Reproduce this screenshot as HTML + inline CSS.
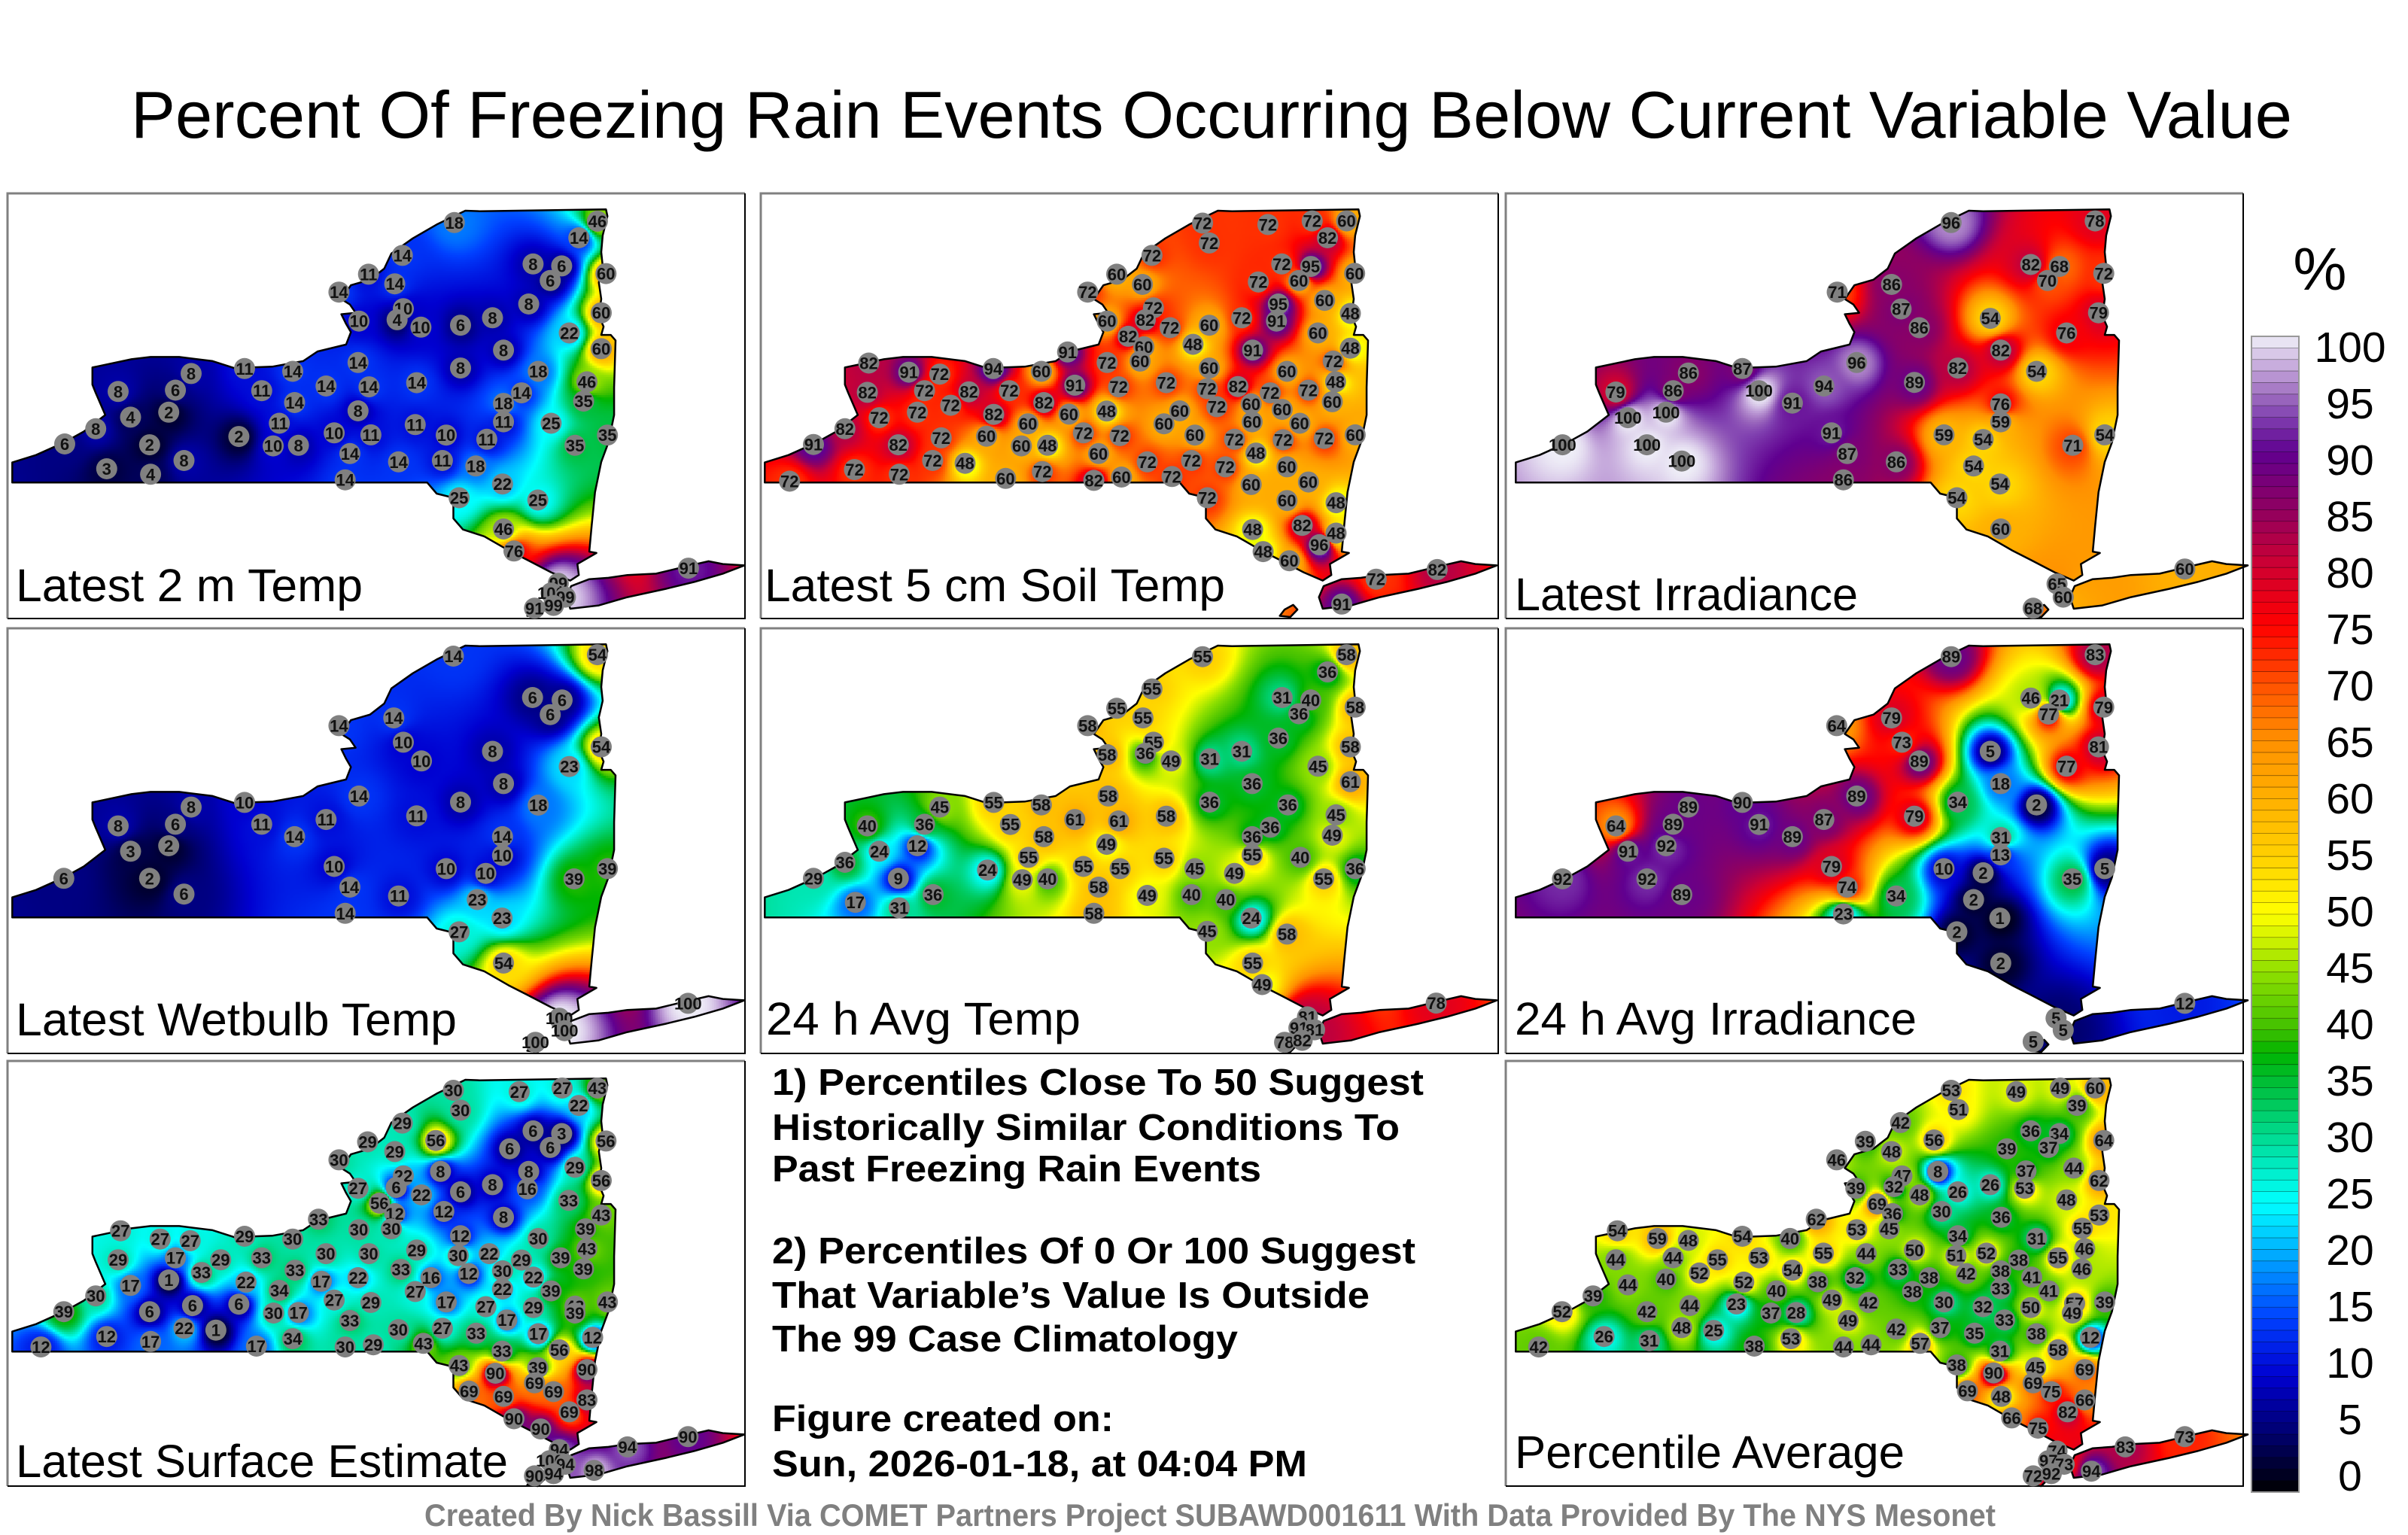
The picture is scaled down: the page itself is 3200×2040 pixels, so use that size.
<!DOCTYPE html>
<html><head><meta charset="utf-8">
<style>
html,body{margin:0;padding:0;background:#fff;}
#wrap{position:relative;width:3200px;height:2040px;overflow:hidden;background:#fff;}
#cv{position:absolute;left:0;top:0;}
#ov{position:absolute;left:0;top:0;}
text{font-family:"Liberation Sans",Arial,sans-serif;}
</style></head>
<body>
<div id="wrap">
<canvas id="cv" width="3200" height="2040"></canvas>
<svg id="ov" width="3200" height="2040" xmlns="http://www.w3.org/2000/svg">
<text x="174" y="183" font-size="88" textLength="2872" lengthAdjust="spacingAndGlyphs">Percent Of Freezing Rain Events Occurring Below Current Variable Value</text>
<g id="panels"></g>
<g id="notes" font-weight="bold" font-size="49">
<text x="1026" y="1455" textLength="866" lengthAdjust="spacingAndGlyphs">1) Percentiles Close To 50 Suggest</text>
<text x="1026" y="1515" textLength="834" lengthAdjust="spacingAndGlyphs">Historically Similar Conditions To</text>
<text x="1026" y="1570" textLength="650" lengthAdjust="spacingAndGlyphs">Past Freezing Rain Events</text>
<text x="1026" y="1679" textLength="855" lengthAdjust="spacingAndGlyphs">2) Percentiles Of 0 Or 100 Suggest</text>
<text x="1026" y="1738" textLength="794" lengthAdjust="spacingAndGlyphs">That Variable’s Value Is Outside</text>
<text x="1026" y="1796" textLength="619" lengthAdjust="spacingAndGlyphs">The 99 Case Climatology</text>
<text x="1026" y="1902" textLength="454" lengthAdjust="spacingAndGlyphs">Figure created on:</text>
<text x="1026" y="1962" textLength="711" lengthAdjust="spacingAndGlyphs">Sun, 2026-01-18, at 04:04 PM</text>
</g>
<text x="564" y="2028" font-size="42" font-weight="bold" fill="#808080" textLength="2088" lengthAdjust="spacingAndGlyphs">Created By Nick Bassill Via COMET Partners Project SUBAWD001611 With Data Provided By The NYS Mesonet</text>
<g id="cbar"></g>
</svg>
</div>
<script>
// ---- colour scale ----
const cmapStops = [0,5,10,15,20,25,30,35,38,40,45,50,55,60,65,70,75,80,85,90,93,95,97,100];
const cmapColors = ["#000000","#00006e","#0000d0","#0040ff","#00a0ff","#00ffff","#00e0a0","#00c040","#00b400","#40c000","#90e000","#ffff00","#ffd000","#ffb000","#ff9000","#ff5000","#ff0000","#d00030","#900060","#600090","#8040b0","#a070c0","#c0a0d8","#f0f0f8"];
const cbarTicks = [0,5,10,15,20,25,30,35,40,45,50,55,60,65,70,75,80,85,90,95,100];

// ---- station data per panel: grid x, grid y (map units), percentile value ----
const p1X=[120,185,208,300,298,258,232,352,338,385,370,485,497,533,598,602,570,557,610,668,685,735,735,758,762,718,708,820,858,855,920,912,950,982,1005,1040,1017,950,867,830,817,737,695,757,812,828,937,1102,1162,1138,1093,1178,1198,1237,1255,1245,1245,1113,1078,1040,1040,1215,1208,1140,1258,1190,1038,947,1112,1040,1062,1155,1140,1170,1105,1145,1428];
const p1Y=[905,850,995,1015,908,808,715,710,790,650,965,878,632,712,642,755,830,912,910,695,865,610,785,698,872,940,1035,970,683,835,873,965,630,985,888,565,448,475,482,415,455,460,355,290,325,222,103,253,260,313,398,503,158,98,288,430,560,642,720,758,825,680,750,830,873,910,1050,1100,1108,1213,1293,1410,1445,1460,1500,1490,1355];
const p1V=[6,8,3,4,2,4,8,6,2,8,8,2,11,11,14,14,11,10,8,14,10,14,8,14,11,14,14,14,14,11,10,11,8,18,11,8,8,6,10,10,4,10,14,11,14,14,18,8,6,6,8,22,14,46,60,60,60,18,14,18,11,46,35,25,35,35,22,25,25,46,76,99,100,99,91,99,91];

const p2X=[928,1065,1158,1230,1190,942,822,1094,1155,1130,1247,1045,748,802,687,1184,1087,1238,825,808,728,860,942,1010,1083,1170,772,805,908,1033,1238,645,728,797,942,1105,1202,228,312,377,489,590,225,345,438,523,660,752,852,938,1002,1070,1150,1207,400,330,250,490,595,648,727,562,880,958,1030,1095,1200,178,112,290,380,475,548,603,678,755,847,912,995,1032,1132,1097,1183,1248,1040,362,198,292,430,515,592,700,758,710,812,864,905,976,1105,1150,1030,62,938,1105,1208,1033,1137,1208,1173,1055,1110,1292,1420,1220];
const p2Y=[105,110,97,97,158,177,222,253,262,313,287,318,290,327,355,385,398,432,412,455,460,484,475,448,460,503,515,553,544,565,558,572,610,605,630,642,605,612,645,652,632,642,718,712,716,712,692,698,683,705,697,720,710,680,765,790,810,798,755,797,786,832,785,770,760,780,752,850,907,908,883,877,912,910,865,875,832,873,888,825,830,890,885,872,938,965,998,1015,975,1030,1005,1037,1025,940,970,1023,965,988,988,1043,1052,1040,1100,1110,1118,1215,1200,1228,1270,1295,1328,1395,1360,1485];
const p2V=[72,72,72,60,82,72,72,72,95,60,60,72,60,60,72,60,95,48,72,82,60,72,60,72,91,60,82,60,48,91,48,91,72,60,60,60,72,82,91,72,94,60,82,72,82,72,91,72,72,72,82,72,72,48,72,72,72,82,82,60,48,60,60,72,60,60,60,82,91,82,72,60,60,48,72,72,60,60,72,60,60,72,72,60,48,72,72,72,48,60,72,82,60,60,72,72,72,72,60,60,60,72,72,60,48,48,82,48,96,48,60,72,82,91];

const p3X=[923,1225,1090,1150,1125,1243,684,798,818,856,1005,1232,1165,1027,725,937,1102,372,485,220,340,520,656,846,590,245,325,1027,1027,908,990,672,1178,1245,108,285,358,705,808,970,697,1025,935,1027,1413,1145,1158,1095];
const p3Y=[103,97,255,262,313,287,355,327,416,484,450,430,503,565,610,630,642,648,632,717,712,712,695,682,757,810,790,760,825,872,889,865,910,872,908,908,967,940,970,985,1035,1050,1100,1213,1358,1412,1460,1500];
const p3V=[96,78,82,68,70,72,71,86,87,86,54,79,76,82,96,82,54,86,87,79,86,100,94,89,91,100,100,76,59,59,54,91,71,54,100,100,100,87,86,54,86,54,54,60,60,65,60,68];

const p4X=[935,1237,1101,1163,1138,810,695,830,868,1017,1245,1178,1040,737,950,1113,497,385,232,352,533,668,858,602,338,258,1038,1038,685,920,1003,1258,1188,118,298,370,718,820,985,708,1037,947,1040,1157,1168,1107,1427];
const p4Y=[98,93,248,257,310,322,350,410,478,443,427,498,560,605,627,638,628,645,713,707,707,690,677,752,785,805,752,820,860,868,885,868,905,903,903,960,935,967,980,1030,1047,1097,1210,1410,1455,1497,1356];
const p4V=[14,54,6,6,6,14,14,10,10,8,54,23,8,14,8,18,10,8,8,6,11,11,11,14,2,3,14,10,10,10,10,39,39,6,2,6,14,11,23,14,23,27,54,100,100,100,100];

const p5X=[928,1230,1190,822,1095,1155,1130,1248,748,803,687,1087,825,808,728,862,943,1010,1238,1170,1238,1032,730,943,1107,490,590,377,225,345,525,660,752,852,1070,1032,1208,1200,595,330,250,727,563,1032,847,1133,178,112,290,477,550,603,678,755,912,995,1182,1248,363,200,292,710,812,905,977,700,1030,1105,938,1033,1053,1148,1130,1163,1100,1137,1418];
const p5Y=[100,93,155,217,248,257,307,283,287,322,350,395,410,450,455,478,470,443,427,497,553,560,605,627,637,628,637,645,713,707,708,690,695,678,718,752,673,747,752,785,805,780,827,818,830,827,845,903,903,873,908,905,860,868,868,885,905,868,962,990,1010,935,965,962,980,1030,1047,1105,1095,1210,1288,1405,1445,1452,1497,1490,1355];
const p5V=[55,58,36,55,31,40,36,58,55,55,58,36,55,36,58,49,31,31,58,45,61,36,58,36,36,55,58,45,40,36,55,61,61,58,36,36,45,49,58,12,24,49,55,55,55,40,36,29,9,24,49,40,55,55,45,49,55,36,36,17,31,58,49,40,40,58,24,58,45,55,49,81,91,81,78,82,78];

const p6X=[923,1225,1090,1150,1127,1243,683,798,820,856,1005,1232,1165,1027,725,937,1102,372,485,220,340,520,656,846,590,325,245,1027,1027,672,908,990,1177,1245,108,285,358,705,808,970,697,1025,935,1027,1413,1143,1158,1095];
const p6Y=[100,93,250,257,308,283,350,322,410,478,443,427,497,560,605,627,637,645,628,713,707,708,690,678,752,785,805,755,818,860,868,883,905,868,905,905,962,935,967,980,1032,1047,1097,1210,1356,1410,1453,1495];
const p6V=[89,83,46,21,77,79,64,79,73,89,5,81,77,18,89,34,2,89,90,64,89,91,87,79,89,92,91,31,13,79,10,2,35,5,92,92,89,74,34,2,23,1,2,2,12,5,5,5];

const p7X=[935,1073,1163,1237,1198,950,828,898,1102,1162,1053,1138,1255,755,812,695,908,1093,1190,830,815,735,868,950,1017,1090,1245,780,812,915,1177,1040,1245,652,737,805,950,1113,1212,237,320,383,497,598,232,352,447,533,668,758,858,945,1010,1078,1160,1215,338,407,500,603,658,735,825,888,967,1038,1103,1208,258,185,570,855,1038,1140,118,298,388,485,558,610,685,762,920,1003,1103,1190,1258,1190,718,1047,70,208,300,370,437,522,598,708,767,820,912,983,872,1113,1227,1037,1157,947,1023,1112,1215,968,1040,1105,1145,1215,1178,1062,1118,1157,1137,1170,1105,1145,1230,1300,1427];
const p7Y=[98,103,90,90,153,170,217,280,245,255,310,305,282,285,320,350,392,392,377,408,450,453,477,466,440,455,425,507,545,537,497,558,550,565,603,600,625,635,600,607,637,643,627,637,712,705,712,705,690,690,677,697,690,713,705,672,785,758,793,750,790,777,747,777,762,752,775,745,805,843,823,827,818,825,900,900,878,873,905,903,858,867,865,882,885,880,865,905,932,930,1028,990,1008,960,967,1025,998,1028,1020,965,960,978,1015,980,993,1043,1038,1095,1123,1103,1110,1188,1207,1158,1190,1220,1263,1288,1325,1400,1440,1453,1495,1487,1475,1390,1353];
const p7V=[30,27,27,43,22,30,29,56,6,3,6,6,56,29,29,30,8,8,29,22,6,27,22,6,8,16,56,56,12,12,33,8,43,33,30,30,12,30,39,27,27,27,29,30,29,17,29,33,30,30,29,30,22,29,39,43,1,33,22,33,17,22,33,16,12,30,22,39,17,30,34,27,22,39,39,6,6,6,30,17,27,29,17,27,29,43,43,39,33,17,12,12,17,22,1,17,34,30,29,30,27,33,43,17,12,33,56,43,90,39,90,69,69,69,69,83,69,90,90,94,100,94,90,94,98,94,90];

const p8X=[923,1060,1152,1225,1187,938,817,887,1090,1150,1040,1127,1243,743,798,683,895,1080,1180,820,803,723,857,937,1005,1077,1233,768,800,903,1165,1028,1233,640,725,793,937,1102,1198,223,307,372,485,585,220,340,433,520,655,745,846,933,997,1065,1147,1203,325,395,488,590,643,722,812,877,955,1027,1092,1197,245,172,557,842,1027,1128,107,285,375,473,545,598,673,750,908,990,1090,1182,1245,1177,707,1035,58,195,290,358,425,510,587,697,755,808,900,972,858,1102,1215,1025,1147,935,1012,1100,1203,957,1028,1095,1133,1203,1167,1050,1105,1145,1127,1160,1095,1133,1217,1288,1413];
const p8Y=[98,103,90,90,153,168,215,278,245,255,310,305,280,283,320,350,392,390,380,408,447,453,477,466,440,453,425,510,545,537,495,558,550,565,603,600,625,635,598,607,635,642,627,635,712,705,712,705,688,690,677,697,688,713,705,672,782,760,793,750,792,777,747,777,762,752,775,745,803,843,825,827,817,825,900,900,878,872,905,903,858,867,865,882,885,870,865,905,932,930,1028,990,1005,958,968,1025,998,1028,1020,963,958,978,1015,980,993,1043,1038,1093,1122,1103,1110,1187,1207,1158,1190,1220,1263,1285,1322,1405,1440,1453,1495,1487,1478,1390,1353];
const p8V=[53,49,49,60,39,51,42,56,36,34,39,37,64,39,48,46,8,37,44,47,32,39,48,26,26,53,62,69,36,30,48,36,53,62,53,45,34,31,55,54,59,48,54,40,44,44,55,53,55,44,50,51,52,38,55,46,40,52,52,54,38,32,33,38,42,38,41,46,44,39,40,38,33,41,52,42,44,23,37,28,49,42,30,32,50,57,39,49,49,33,42,26,31,48,25,38,53,44,44,42,37,35,57,38,12,31,58,38,90,45,69,69,48,69,75,66,82,66,75,74,97,73,72,92,94,83,73];

const panelTitles=["Latest 2 m Temp","Latest 5 cm Soil Temp","Latest Irradiance","Latest Wetbulb Temp","24 h Avg Temp","24 h Avg Irradiance","Latest Surface Estimate","Percentile Average"];

// ---- layout (not data) ----
const layout=[
 {bx:10,by:257,ox:10,oy:258,lx:11,ly:541,lw:461,X:p1X,Y:p1Y,V:p1V},
 {bx:1011,by:257,ox:1010,oy:258,lx:6,ly:541,lw:612,X:p2X,Y:p2Y,V:p2V},
 {bx:2001,by:257,ox:2008,oy:258,lx:5,ly:553,lw:456,X:p3X,Y:p3Y,V:p3V},
 {bx:10,by:835,ox:10,oy:836,lx:11,ly:540,lw:586,X:p4X,Y:p4Y,V:p4V},
 {bx:1011,by:835,ox:1010,oy:836,lx:8,ly:539,lw:418,X:p5X,Y:p5Y,V:p5V},
 {bx:2001,by:835,ox:2008,oy:836,lx:5,ly:539,lw:534,X:p6X,Y:p6Y,V:p6V},
 {bx:10,by:1410,ox:10,oy:1413,lx:11,ly:550,lw:654,X:p7X,Y:p7Y,V:p7V},
 {bx:2001,by:1410,ox:2008,oy:1413,lx:5,ly:538,lw:518,X:p8X,Y:p8Y,V:p8V}
];
const SX=1/1.578, SY=1/2.726;
const mainShape=[[10,1045],[10,972],[60,945],[118,900],[160,860],[205,800],[185,720],[178,690],[178,628],[260,598],[300,590],[360,590],[430,605],[475,630],[555,625],[620,605],[650,570],[710,545],[720,500],[710,470],[700,435],[730,430],[718,400],[700,380],[720,330],[760,310],[790,270],[805,215],[850,160],[900,110],[960,60],[990,62],[1255,55],[1258,80],[1248,150],[1245,210],[1248,260],[1240,320],[1245,380],[1240,440],[1250,480],[1245,510],[1265,510],[1275,530],[1272,700],[1272,800],[1260,900],[1245,970],[1232,1080],[1225,1200],[1220,1295],[1235,1300],[1195,1340],[1198,1380],[1180,1400],[1140,1370],[1090,1325],[1050,1290],[1000,1240],[955,1215],[935,1175],[935,1100],[900,1085],[880,1045]];
const statenShape=[[1100,1505],[1090,1528],[1112,1532],[1127,1505],[1118,1488]];
const longIsland=[[1182,1420],[1220,1395],[1260,1390],[1300,1380],[1360,1375],[1420,1350],[1470,1330],[1500,1340],[1545,1345],[1500,1375],[1440,1405],[1380,1430],[1300,1460],[1240,1490],[1180,1502],[1172,1460]];
const shapes=[mainShape,statenShape,longIsland];

function hex(c){return [parseInt(c.substr(1,2),16),parseInt(c.substr(3,2),16),parseInt(c.substr(5,2),16)];}
const rgbStops=cmapColors.map(hex);
function colorOf(v){
  v=Math.max(0,Math.min(100,v));
  for(let i=1;i<cmapStops.length;i++){
    if(v<=cmapStops[i]){
      const t=(v-cmapStops[i-1])/(cmapStops[i]-cmapStops[i-1]);
      const a=rgbStops[i-1],b=rgbStops[i];
      return [Math.round(a[0]+(b[0]-a[0])*t),Math.round(a[1]+(b[1]-a[1])*t),Math.round(a[2]+(b[2]-a[2])*t)];
    }
  }
  return rgbStops[rgbStops.length-1];
}

const cv=document.getElementById('cv');
const ctx=cv.getContext('2d');
const NS="http://www.w3.org/2000/svg";
const gP=document.getElementById('panels');
function mk(tag,attrs,parent){const e=document.createElementNS(NS,tag);for(const k in attrs)e.setAttribute(k,attrs[k]);parent.appendChild(e);return e;}

layout.forEach((L,pi)=>{
  const px=L.X.map(x=>L.ox+x*SX), py=L.Y.map(y=>L.oy+y*SY);
  // field
  const path=new Path2D();
  shapes.forEach(s=>{s.forEach((p,i)=>{const x=L.ox+p[0]*SX,y=L.oy+p[1]*SY; if(i===0)path.moveTo(x,y); else path.lineTo(x,y);}); path.closePath();});
  ctx.save(); ctx.clip(path);
  const step=3, n=px.length;
  for(let y=L.oy+15;y<L.oy+565;y+=step){
    for(let x=L.ox;x<L.ox+985;x+=step){
      let ws=0,vs=0,hit=-1;
      for(let k=0;k<n;k++){const dx=x-px[k],dy=y-py[k];const d2=dx*dx+dy*dy; if(d2<1){hit=k;break;} const w=1/(d2*Math.sqrt(d2)); ws+=w; vs+=w*L.V[k];}
      const v=hit>=0?L.V[hit]:vs/ws;
      const c=colorOf(v);
      ctx.fillStyle='rgb('+c[0]+','+c[1]+','+c[2]+')';
      ctx.fillRect(x,y,step,step);
    }
  }
  ctx.restore();
  // svg overlay
  const g=mk('g',{},gP);
  
  
  const bx=L.bx,by=L.by,w=980,h=565;
  const b1=mk('polyline',{points:`${bx},${by+h} ${bx},${by} ${bx+w},${by}`,fill:'none',stroke:'#808080','stroke-width':3},g);
  
  
  const b2=mk('polyline',{points:`${bx+w},${by} ${bx+w},${by+h} ${bx},${by+h}`,fill:'none',stroke:'#000','stroke-width':2},g);
  
  
  shapes.forEach(s=>{
    const pg=mk('polygon',{points:s.map(p=>(L.ox+p[0]*SX).toFixed(1)+','+(L.oy+p[1]*SY).toFixed(1)).join(' '),fill:'none',stroke:'#000','stroke-width':2.5,'stroke-linejoin':'round'},g);
    
    
  });
  for(let k=0;k<px.length;k++){
    const c=mk('circle',{cx:px[k].toFixed(1),cy:py[k].toFixed(1),r:14,fill:'#808080'},g);
    
    
    const t=mk('text',{x:px[k].toFixed(1),y:(py[k]+8).toFixed(1),'font-size':22,'font-weight':'bold','text-anchor':'middle',fill:'#111'},g);
    t.textContent=L.V[k];
    
    
  }
  const lab=mk('text',{x:L.ox+L.lx,y:L.oy+L.ly,'font-size':61,textLength:L.lw,lengthAdjust:'spacingAndGlyphs'},g);
  lab.textContent=panelTitles[pi];
  
  
});

// ---- colorbar ----
const cb=document.getElementById('cbar');
const cbTop=447,cbBot=1983,cbX=2992,cbW=63;
function cbY(v){return cbBot-(v/100)*(cbBot-cbTop);}
for(let v=0;v<100;v++){
  const c=colorOf(v+0.5);
  const r=mk('rect',{x:cbX,y:cbY(v+1).toFixed(2),width:cbW,height:((cbBot-cbTop)/100+0.4).toFixed(2),fill:'rgb('+c[0]+','+c[1]+','+c[2]+')'},cb);
  
  
  const ln=mk('line',{x1:cbX,x2:cbX+cbW,y1:cbY(v).toFixed(2),y2:cbY(v).toFixed(2),stroke:'#000','stroke-width':0.8,'stroke-opacity':0.45},cb);
  
  
}
const cbo=mk('rect',{x:cbX,y:cbTop,width:cbW,height:cbBot-cbTop,fill:'none',stroke:'#999','stroke-width':2},cb);


function labY(v){return 1961-v*15;}
cbarTicks.forEach(v=>{
  const t=mk('text',{x:3123,y:(labY(v)+20).toFixed(1),'font-size':57,'text-anchor':'middle'},cb);
  t.textContent=v;
  
  
});
const pct=mk('text',{x:3083,y:385,'font-size':80,'text-anchor':'middle'},cb);
pct.textContent='%';


</script>
</body></html>
